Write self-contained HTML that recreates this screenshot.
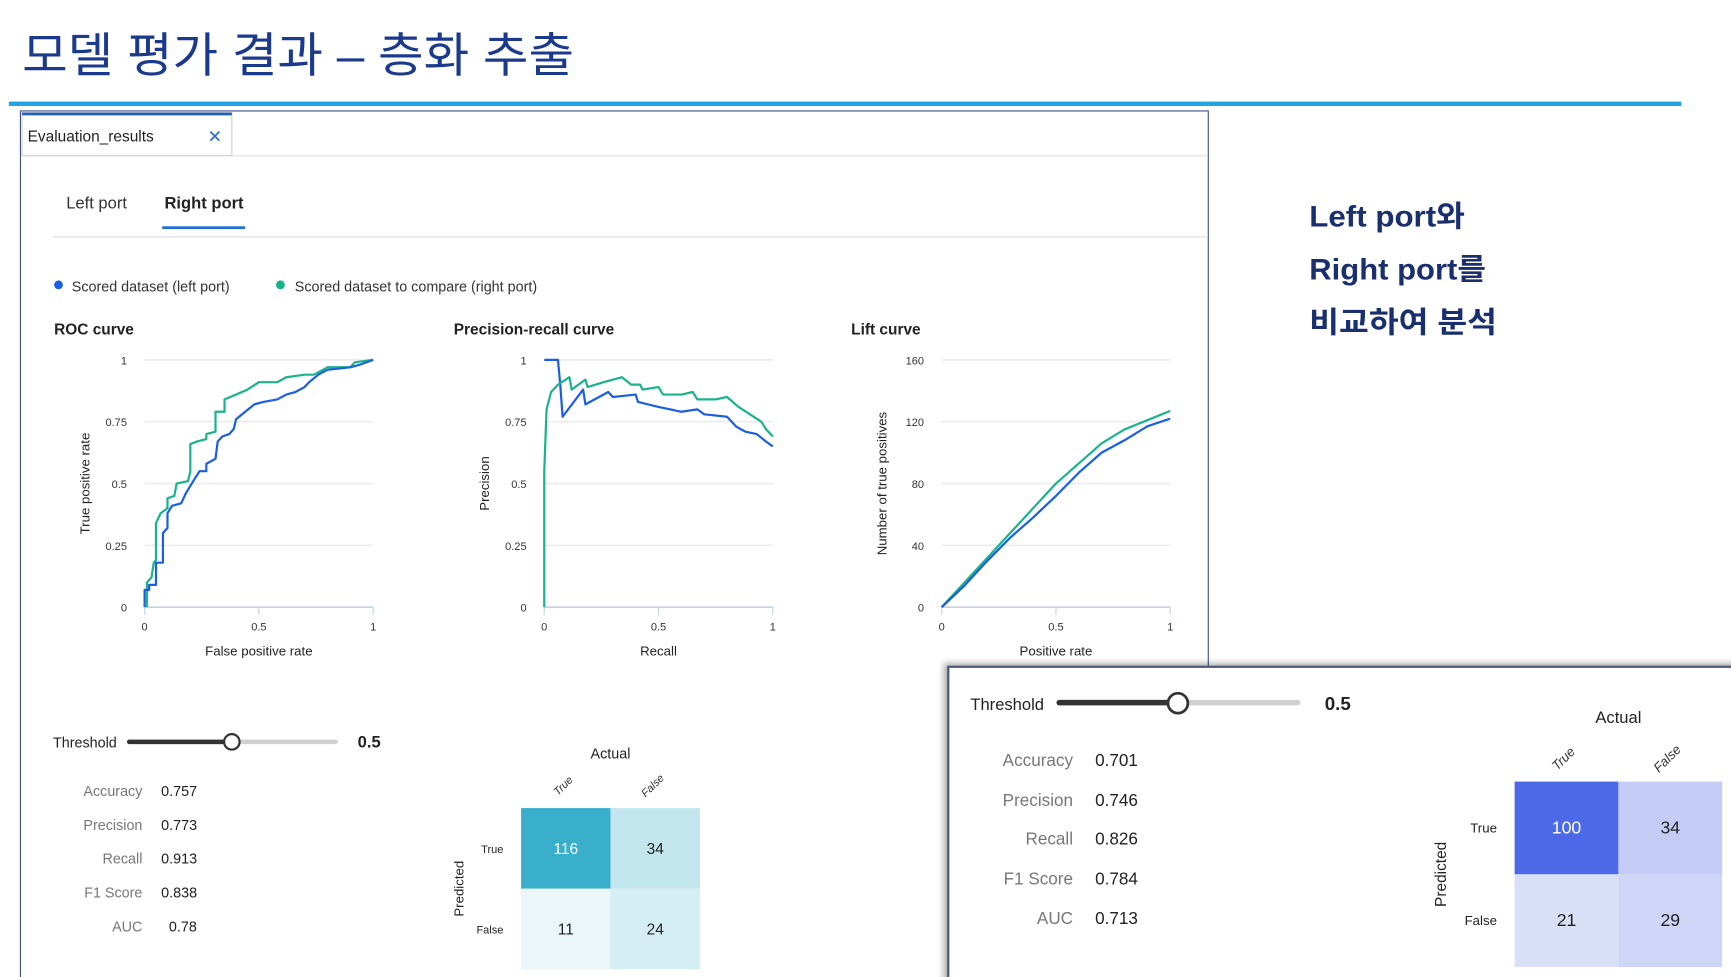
<!DOCTYPE html>
<html><head><meta charset="utf-8">
<style>
html,body{margin:0;padding:0;background:#fff;width:1731px;height:977px;overflow:hidden}
svg{display:block}
text{font-family:"Liberation Sans","Noto Sans CJK KR",sans-serif}
</style></head>
<body>
<svg id="root" width="1731" height="977" viewBox="0 0 1568 885" xmlns="http://www.w3.org/2000/svg">
<defs>
<filter id="sh" x="-5%" y="-5%" width="110%" height="110%"><feDropShadow dx="-3" dy="-2" stdDeviation="3" flood-color="#000" flood-opacity="0.35"/></filter>
</defs>
<text x="20" y="65" font-size="43" fill="#1c3a8c" textLength="500" lengthAdjust="spacingAndGlyphs">모델 평가 결과 – 층화 추출</text>
<rect x="8" y="92" width="1515" height="4" fill="#22a4e2"/>

<g>
<rect x="18.5" y="100.5" width="1076" height="800" fill="#fff" stroke="#3b4f86" stroke-width="1"/>
<line x1="19" y1="141" x2="1094" y2="141" stroke="#e8e8e8" stroke-width="1.5"/>
<g>
<rect x="20" y="102" width="190" height="39" fill="#fff" stroke="#d0d0d0"/>
<rect x="20" y="102" width="190" height="2.5" fill="#1f5fbf"/>
<text x="25" y="128" font-size="14" fill="#222">Evaluation_results</text>
</g>
<text x="188" y="129" font-size="16" fill="#2a6fd0">✕</text>
<text x="60" y="189" font-size="15" fill="#333">Left port</text>
<text x="149" y="189" font-size="15" fill="#222" font-weight="bold">Right port</text>
<rect x="147" y="205" width="75" height="2.5" fill="#1f6fd6"/>
<line x1="48" y1="214.5" x2="1094" y2="214.5" stroke="#e6e6e6" stroke-width="1.5"/>
<g>
<circle cx="53" cy="258" r="4" fill="#1b5fe0"/>
<text x="65" y="264" font-size="13" fill="#333">Scored dataset (left port)</text>
<circle cx="254" cy="258" r="4" fill="#19b08a"/>
<text x="267" y="264" font-size="13" fill="#333">Scored dataset to compare (right port)</text>
</g>
<g id="charts"></g>

<g>
<text x="48" y="677" font-size="13" fill="#222">Threshold</text>
<rect x="115" y="670" width="191" height="4" rx="2" fill="#d0d0d0"/>
<rect x="115" y="670" width="95" height="4" rx="2" fill="#333"/>
<circle cx="210" cy="672" r="7" fill="#fff" stroke="#333" stroke-width="2"/>
<text x="324" y="677" font-size="15" fill="#222" font-weight="bold">0.5</text>
</g>
<g font-size="13">
<text x="129" y="721" text-anchor="end" fill="#777">Accuracy</text><text x="146" y="721" fill="#222">0.757</text>
<text x="129" y="752" text-anchor="end" fill="#777">Precision</text><text x="146" y="752" fill="#222">0.773</text>
<text x="129" y="782" text-anchor="end" fill="#777">Recall</text><text x="146" y="782" fill="#222">0.913</text>
<text x="129" y="813" text-anchor="end" fill="#777">F1 Score</text><text x="146" y="813" fill="#222">0.838</text>
<text x="129" y="844" text-anchor="end" fill="#777">AUC</text><text x="153" y="844" fill="#222">0.78</text>
</g>
<g id="cmL"></g>
</g>

<g font-size="27" font-weight="bold" fill="#1a2f6e">
<text x="1186" y="205" textLength="141" lengthAdjust="spacingAndGlyphs">Left port와</text>
<text x="1186" y="253" textLength="160" lengthAdjust="spacingAndGlyphs">Right port를</text>
<text x="1186" y="301" textLength="170" lengthAdjust="spacingAndGlyphs">비교하여 분석</text>
</g>

<g>
<rect x="859" y="604" width="720" height="300" fill="#fff" stroke="#4b5878" stroke-width="2" filter="url(#sh)"/>
<text x="879" y="643" font-size="15" fill="#222">Threshold</text>
<rect x="957" y="634" width="221" height="5" rx="2.5" fill="#d0d0d0"/>
<rect x="957" y="634" width="110" height="5" rx="2.5" fill="#333"/>
<circle cx="1067" cy="637" r="9" fill="#fff" stroke="#333" stroke-width="2.5"/>
<text x="1200" y="643" font-size="17" fill="#222" font-weight="bold">0.5</text>
<g font-size="15.5">
<text x="972" y="694" text-anchor="end" fill="#777">Accuracy</text><text x="992" y="694" fill="#222">0.701</text>
<text x="972" y="730" text-anchor="end" fill="#777">Precision</text><text x="992" y="730" fill="#222">0.746</text>
<text x="972" y="765" text-anchor="end" fill="#777">Recall</text><text x="992" y="765" fill="#222">0.826</text>
<text x="972" y="801" text-anchor="end" fill="#777">F1 Score</text><text x="992" y="801" fill="#222">0.784</text>
<text x="972" y="837" text-anchor="end" fill="#777">AUC</text><text x="992" y="837" fill="#222">0.713</text>
</g>
<g id="cmR"></g>
</g>
</svg>
<script>
var NS='http://www.w3.org/2000/svg';
// ROC data
var rocFprBlue=[0,0,0.02,0.02,0.05,0.05,0.08,0.08,0.1,0.1,0.12,0.16,0.18,0.2,0.22,0.24,0.27,0.27,0.31,0.32,0.34,0.37,0.39,0.40,0.44,0.48,0.52,0.58,0.62,0.66,0.7,0.72,0.76,0.8,0.9,0.94,1];
var rocTprBlue=[0,0.07,0.07,0.09,0.09,0.18,0.18,0.3,0.32,0.38,0.41,0.42,0.46,0.49,0.52,0.55,0.55,0.58,0.6,0.67,0.69,0.70,0.72,0.76,0.79,0.82,0.83,0.84,0.86,0.87,0.89,0.91,0.94,0.96,0.97,0.98,1];
var rocFprGreen=[0.01,0.01,0.03,0.04,0.05,0.05,0.07,0.1,0.1,0.13,0.14,0.19,0.2,0.2,0.23,0.27,0.27,0.31,0.31,0.35,0.35,0.4,0.45,0.5,0.58,0.62,0.7,0.74,0.78,0.8,0.9,0.92,1];
var rocTprGreen=[0,0.1,0.12,0.18,0.19,0.34,0.38,0.40,0.44,0.45,0.50,0.51,0.55,0.66,0.67,0.68,0.7,0.71,0.79,0.79,0.84,0.86,0.88,0.91,0.91,0.93,0.94,0.94,0.96,0.97,0.97,0.99,1];
// Precision-recall data
var prRecallBlue=[0,0.06,0.07,0.08,0.17,0.18,0.28,0.3,0.4,0.41,0.5,0.55,0.6,0.67,0.7,0.8,0.84,0.88,0.93,0.97,1];
var prPrecBlue=[1,1,0.9,0.77,0.88,0.82,0.87,0.85,0.86,0.83,0.81,0.8,0.79,0.8,0.78,0.77,0.73,0.71,0.70,0.67,0.65];
var prRecallGreen=[0,0,0.01,0.03,0.06,0.11,0.12,0.18,0.19,0.26,0.34,0.38,0.42,0.43,0.5,0.52,0.6,0.65,0.67,0.75,0.8,0.85,0.9,0.95,0.97,1];
var prPrecGreen=[0,0.55,0.8,0.87,0.9,0.93,0.88,0.92,0.89,0.91,0.93,0.9,0.9,0.88,0.89,0.86,0.86,0.87,0.84,0.84,0.85,0.81,0.78,0.75,0.72,0.69];
// Lift data
var liftRateBlue=[0,0.1,0.2,0.3,0.4,0.5,0.6,0.7,0.8,0.9,1];
var liftTpBlue=[0,14,30,45,58,72,87,100,108,117,122];
var liftRateGreen=[0,0.1,0.2,0.3,0.4,0.5,0.6,0.7,0.8,0.9,1];
var liftTpGreen=[0,16,32,48,64,80,93,106,115,121,127];
var yTicks01=['0','0.25','0.5','0.75','1'];
var yTicksLift=['0','40','80','120','160'];
var xTicks=['0','0.5','1'];
// Confusion matrices
var cmLeftValues=[[116,34],[11,24]];
var cmRightValues=[[100,34],[21,29]];
var cmLabels=['True','False'];

function el(tag,attrs,parent){var e=document.createElementNS(NS,tag);for(var k in attrs)e.setAttribute(k,attrs[k]);parent.appendChild(e);return e;}
var charts=document.getElementById('charts');
function chart(name,title,x0,xlab,ylab,ymax,yt,series){
  var g=el('g',{},charts);
  
  
  var L=x0+82,R=x0+289,T=326,B=550;
  var sx=function(v){return L+v*(R-L);}, sy=function(v){return B-v/ymax*(B-T);};
  var t=el('text',{x:x0,y:303,'font-size':14,'font-weight':'bold',fill:'#222'},g);t.textContent=title;
  
  yt.forEach(function(lbl,i){var v=ymax*i/(yt.length-1);var y=sy(v);
    if(i>0)el('line',{x1:L,x2:R,y1:y,y2:y,stroke:'#ececec','stroke-width':1.5},g);
    var tt=el('text',{x:L-16,y:y+4,'font-size':10,fill:'#333','text-anchor':'end'},g);tt.textContent=lbl;
    });
  el('line',{x1:L,x2:R,y1:B,y2:B,stroke:'#c8d0e8','stroke-width':1.5},g);
  xTicks.forEach(function(lbl,i){var x=sx(i/2);el('line',{x1:x,x2:x,y1:B,y2:B+7,stroke:'#c8d0e8'},g);
    var tt=el('text',{x:x,y:B+21,'font-size':10,fill:'#333','text-anchor':'middle'},g);tt.textContent=lbl;
    });
  var xl=el('text',{x:(L+R)/2,y:594,'font-size':12,fill:'#222','text-anchor':'middle'},g);xl.textContent=xlab;
  
  var yx=L-50;var yl=el('text',{x:yx,y:(T+B)/2,'font-size':12,fill:'#222','text-anchor':'middle',transform:'rotate(-90 '+yx+' '+(T+B)/2+')'},g);yl.textContent=ylab;
  
  series.forEach(function(s){var d='';s.x.forEach(function(v,i){d+=(i?'L':'M')+sx(v).toFixed(1)+' '+sy(s.y[i]).toFixed(1);});
    var p=el('path',{d:d,fill:'none',stroke:s.c,'stroke-width':2,'stroke-linejoin':'round'},g);
    });
}
chart('roc-curve','ROC curve',49,'False positive rate','True positive rate',1,yTicks01,[
 {x:rocFprGreen,y:rocTprGreen,c:'#1bb38c',n:'roc-line-right-port'},{x:rocFprBlue,y:rocTprBlue,c:'#1b5fe0',n:'roc-line-left-port'}]);
chart('precision-recall-curve','Precision-recall curve',411,'Recall','Precision',1,yTicks01,[
 {x:prRecallBlue,y:prPrecBlue,c:'#1b5fe0',n:'pr-line-left-port'},{x:prRecallGreen,y:prPrecGreen,c:'#1bb38c',n:'pr-line-right-port'}]);
chart('lift-curve','Lift curve',771,'Positive rate','Number of true positives',160,yTicksLift,[
 {x:liftRateGreen,y:liftTpGreen,c:'#1bb38c',n:'lift-line-right-port'},{x:liftRateBlue,y:liftTpBlue,c:'#1b5fe0',n:'lift-line-left-port'}]);

function cm(id,vals,x0,y0,cw,ch,colors,dark,fs,ax,ay,px){
  var g=document.getElementById(id);
  var a=el('text',{x:ax,y:ay,'font-size':fs-1,fill:'#222','text-anchor':'middle'},g);a.textContent='Actual';
  
  cmLabels.forEach(function(l,i){var cx=x0+cw*(i+0.5),cy=y0-18;
    var t=el('text',{x:cx,y:cy,'font-size':fs-4,'font-style':'italic',fill:'#333','text-anchor':'middle',transform:'rotate(-45 '+cx+' '+cy+')'},g);t.textContent=l;
    
    var r=el('text',{x:x0-16,y:y0+ch*(i+0.5)+4,'font-size':fs-4,fill:'#222','text-anchor':'end'},g);r.textContent=l;
    });
  var py=y0+ch;var p=el('text',{x:px,y:py,'font-size':fs-2,fill:'#222','text-anchor':'middle',transform:'rotate(-90 '+px+' '+py+')'},g);p.textContent='Predicted';
  
  vals.forEach(function(row,r){row.forEach(function(v,c){
    var rc=el('rect',{x:x0+c*cw,y:y0+r*ch,width:cw,height:ch,fill:colors[r][c]},g);
    
    var t=el('text',{x:x0+c*cw+cw/2,y:y0+r*ch+ch/2+5,'font-size':fs,fill:(r==0&&c==0)?'#fff':'#222','text-anchor':'middle'},g);t.textContent=v;
    });});
}
cm('cmL',cmLeftValues,472,732,81,73,[['#3aafcc','#c2e5ee'],['#eaf6f9','#d5eef4']],0,14,553,687,420);
cm('cmR',cmRightValues,1372,708,94,84,[['#4c6ae8','#c4ccf5'],['#dadff8','#cfd5f6']],0,16,1466,655,1310);
</script>
</body></html>
